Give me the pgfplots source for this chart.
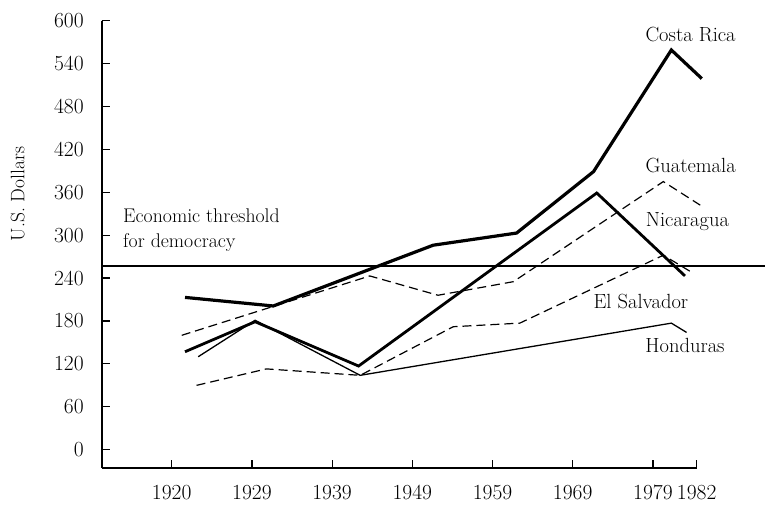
\documentclass[border=0pt]{standalone}
\usepackage{fontspec}
\usepackage{pgfplots}
\pgfplotsset{compat=1.18}
\begin{document}
\fontsize{20.5}{24}\selectfont
\begin{tikzpicture}
\begin{axis}[
  at={(101.7pt,38pt)}, anchor=south west,
  scale only axis, width=595pt, height=447.3pt,
  xmin=-0.873, xmax=6.546, ymin=-25.6, ymax=600,
  axis x line=bottom, axis y line=left,
  axis line style={-, line width=1.6pt},
  xtick={0,1,2,3,4,5,6,6.546},
  xticklabels={1920,1929,1939,1949,1959,1969,1979,1982},
  ytick={0,60,...,600},
  tick align=inside, major tick length=8pt,
  tick style={line width=1.2pt, black},
  tick label style={font=\fontsize{21.5}{24}\selectfont},
  yticklabel style={xshift=-11pt},
  xticklabel style={yshift=-10pt},
  /pgf/number format/assume math mode=true,
  clip=false,
]
% threshold
\addplot[black, line width=2pt] coordinates {(-0.873,257) (7.40,257)};
% Costa Rica
\addplot[black, line width=3.2pt] coordinates {(0.166,213) (1.267,201) (3.26,286) (4.30,303) (5.26,389) (6.23,559) (6.61,519)};
% Nicaragua
\addplot[black, line width=2.8pt] coordinates {(0.166,137) (1.04,179) (2.33,117) (5.30,359) (6.40,243)};
% Honduras
\addplot[black, line width=1.3pt] coordinates {(0.33,130) (1.04,181) (2.35,104) (6.23,177) (6.42,164)};
% Guatemala
\addplot[black, line width=1.2pt, dash pattern=on 9pt off 5pt] coordinates {(0.125,160) (2.47,243) (3.32,216) (4.26,235) (6.13,375) (6.59,342)};
% El Salvador
\addplot[black, line width=1.2pt, dash pattern=on 9pt off 5pt] coordinates {(0.31,90) (1.18,113) (2.35,104) (3.51,172) (4.34,177) (6.13,272) (6.50,247)};

\node at (axis cs:6.47,581) {Costa Rica};
\node at (axis cs:6.47,398) {Guatemala};
\node at (axis cs:6.43,319) {Nicaragua};
\node at (axis cs:5.85,207) {El Salvador};
\node at (axis cs:6.40,146) {Honduras};
\node[anchor=west, align=left, inner sep=0pt, font=\fontsize{19.8}{25}\selectfont] at (axis cs:-0.607,306.6) {Economic threshold\\for democracy};
\node[rotate=90, font=\fontsize{19.5}{22}\selectfont] at (axis cs:-1.92,357.6) {U.S. Dollars};
\end{axis}
\pgfresetboundingbox
\useasboundingbox (0,0) rectangle (765pt,506pt);
\end{tikzpicture}
\end{document}
